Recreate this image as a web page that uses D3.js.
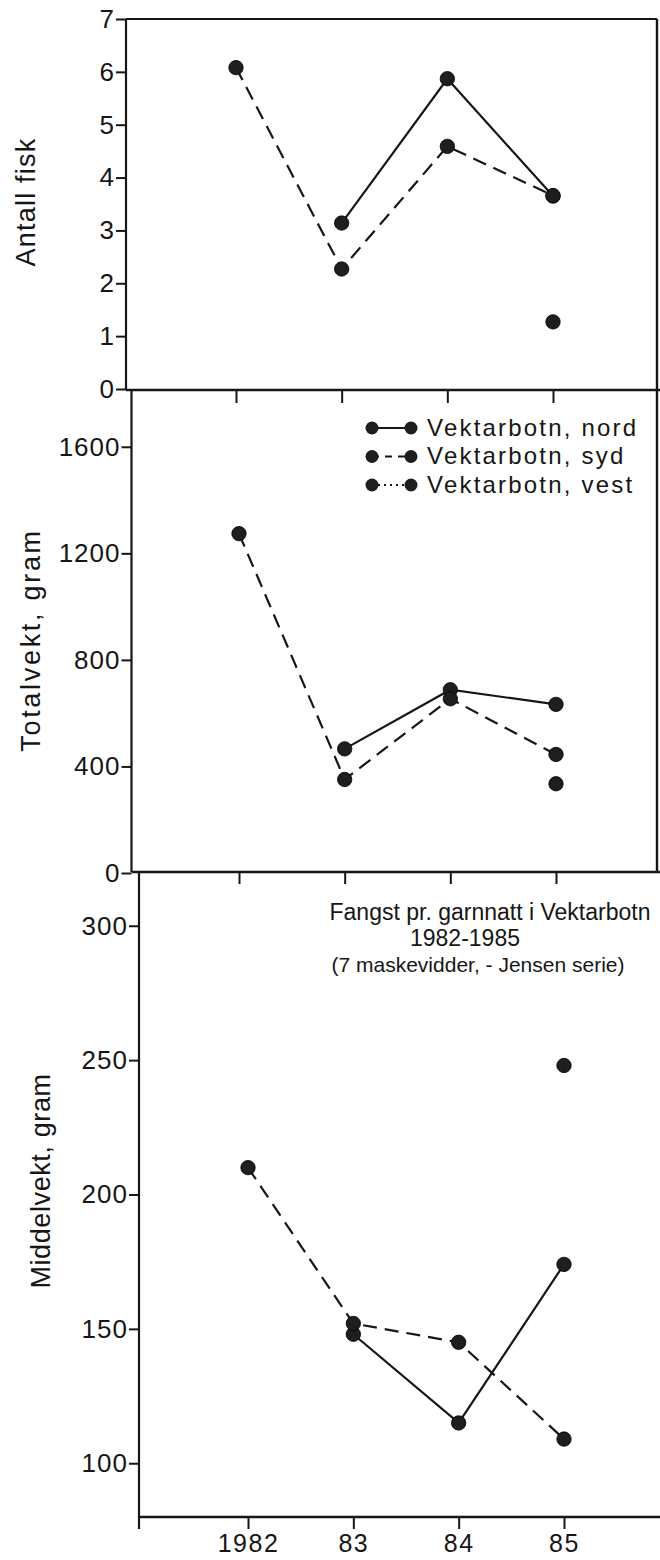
<!DOCTYPE html>
<html>
<head>
<meta charset="utf-8">
<script src="https://cdn.jsdelivr.net/npm/d3@7"></script>
<style>
  html, body { margin: 0; padding: 0; background: #fff; }
  svg { display: block; }
  text { font-family: "Liberation Sans", Arial, sans-serif; fill: #161616; }
</style>
</head>
<body>
<svg id="chart" width="660" height="1560"></svg>
<script>
// ---- data ----
const years = [1982, 1983, 1984, 1985];
const yearLabels = ["1982", "83", "84", "85"];
const seriesNames = ["Vektarbotn, nord", "Vektarbotn, syd", "Vektarbotn, vest"];

// Antall fisk
const antallNord = [null, 3.14, 5.87, 3.65];
const antallSyd  = [6.08, 2.27, 4.59, 3.66];
const antallVest = [null, null, null, 1.27];
const antallTicks = [0, 1, 2, 3, 4, 5, 6, 7];

// Totalvekt, gram
const totalNord = [null, 466, 688, 633];
const totalSyd  = [1274, 351, 654, 445];
const totalVest = [null, null, null, 335];
const totalTicks = [0, 400, 800, 1200, 1600];

// Middelvekt, gram
const middelNord = [null, 148, 115, 174];
const middelSyd  = [210, 152, 145, 109];
const middelVest = [null, null, null, 248];
const middelTicks = [100, 150, 200, 250, 300];

const titleLines = ["Fangst pr. garnnatt i Vektarbotn", "1982-1985", "(7 maskevidder, - Jensen serie)"];

// ---- drawing ----
const svg = d3.select("#chart");
const INK = "#161616";
const SANS = '"Liberation Sans", Arial, sans-serif';

const panels = [
  { label: "Antall fisk", nord: antallNord, syd: antallSyd, vest: antallVest, ticks: antallTicks,
    domain: [0, 7], yRange: [389, 19], axisX: 126, xRange: [236, 553], top: 19, bottom: 390,
    labelX: 35, labelY: 202, labelSpacing: 1.2, rightFrame: true, topFrame: true },
  { label: "Totalvekt, gram", nord: totalNord, syd: totalSyd, vest: totalVest, ticks: totalTicks,
    domain: [0, 1800], yRange: [873, 393.5], axisX: 131.5, xRange: [239, 556], top: 390, bottom: 872,
    labelX: 40, labelY: 640, labelSpacing: 2.7, rightFrame: true, topFrame: false },
  { label: "Middelvekt, gram", nord: middelNord, syd: middelSyd, vest: middelVest, ticks: middelTicks,
    domain: [80, 320], yRange: [1517, 872], axisX: 139, xRange: [248, 564], top: 872, bottom: 1517,
    labelX: 50, labelY: 1181, labelSpacing: 0.6, rightFrame: false, topFrame: false }
];

panels.forEach((p, i) => {
  const g = svg.append("g");
  const x = d3.scaleLinear().domain([1982, 1985]).range(p.xRange);
  const y = d3.scaleLinear().domain(p.domain).range(p.yRange);

  // left axis
  const yAxis = d3.axisLeft(y).tickValues(p.ticks).tickSize(10).tickPadding(1).tickSizeOuter(0)
    .tickFormat(d3.format("d"));
  const ya = g.append("g").attr("transform", `translate(${p.axisX},0)`).call(yAxis);
  ya.select(".domain").remove();
  ya.selectAll(".tick line").attr("stroke", INK).attr("stroke-width", 2);
  ya.selectAll(".tick text").attr("font-size", 26).attr("fill", INK).attr("letter-spacing", 1)
    .style("font-family", SANS);
  g.append("line").attr("x1", p.axisX).attr("x2", p.axisX)
    .attr("y1", p.top).attr("y2", i === 2 ? p.bottom + 12 : p.bottom)
    .attr("stroke", INK).attr("stroke-width", 2.2);

  // bottom axis with ticks pointing down
  const xAxis = d3.axisBottom(x).tickValues(years).tickSize(i === 0 ? 13 : 12).tickSizeOuter(0)
    .tickFormat((d, k) => i === 2 ? yearLabels[k] : "");
  const xa = g.append("g").attr("transform", `translate(0,${p.bottom})`).call(xAxis);
  xa.select(".domain").remove();
  xa.selectAll(".tick line").attr("stroke", INK).attr("stroke-width", 2);
  xa.selectAll(".tick text").attr("font-size", 25).attr("fill", INK)
    .attr("y", 35).attr("dy", 0)
    .attr("letter-spacing", 1.5)
    .style("font-family", SANS);
  g.append("line").attr("x1", p.axisX).attr("x2", 660)
    .attr("y1", p.bottom).attr("y2", p.bottom)
    .attr("stroke", INK).attr("stroke-width", 2.4);

  if (p.topFrame) {
    g.append("line").attr("x1", p.axisX).attr("x2", 657).attr("y1", p.top).attr("y2", p.top)
      .attr("stroke", INK).attr("stroke-width", 2.2);
  }
  if (p.rightFrame) {
    g.append("line").attr("x1", 657).attr("x2", 657).attr("y1", p.top).attr("y2", p.bottom)
      .attr("stroke", INK).attr("stroke-width", 2.4);
  }

  // axis title
  g.append("text")
    .attr("transform", `translate(${p.labelX},${p.labelY}) rotate(-90)`)
    .attr("text-anchor", "middle").attr("font-size", 27).attr("letter-spacing", p.labelSpacing)
    .text(p.label);

  // lines
  const line = d3.line().defined(d => d.v != null).x(d => x(d.yr)).y(d => y(d.v));
  const toPts = arr => years.map((yr, k) => ({ yr, v: arr[k] }));
  g.append("path").datum(toPts(p.syd)).attr("d", line).attr("fill", "none")
    .attr("stroke", INK).attr("stroke-width", 2.2).attr("stroke-dasharray", "14,8");
  g.append("path").datum(toPts(p.nord)).attr("d", line).attr("fill", "none")
    .attr("stroke", INK).attr("stroke-width", 2.2);

  // dots
  const allPts = [p.nord, p.syd, p.vest].flatMap(arr => toPts(arr).filter(d => d.v != null));
  g.selectAll("circle.pt").data(allPts).enter().append("circle").attr("class", "pt")
    .attr("cx", d => x(d.yr)).attr("cy", d => y(d.v)).attr("r", 7.2)
    .attr("fill", "#1e1e1e").attr("stroke", "#000").attr("stroke-width", 0.8);
});

// legend (in panel 2)
const legendDash = [null, "7,6", "2,4"];
const leg = svg.append("g");
seriesNames.forEach((name, k) => {
  const cy = 428 + k * 28.5;
  leg.append("line").attr("x1", 372).attr("x2", 411).attr("y1", cy).attr("y2", cy)
    .attr("stroke", INK).attr("stroke-width", 2)
    .attr("stroke-dasharray", legendDash[k]);
  [372, 411].forEach(cx => leg.append("circle").attr("cx", cx).attr("cy", cy).attr("r", 6.5)
    .attr("fill", "#1e1e1e"));
  leg.append("text").attr("x", 427).attr("y", cy + 7.5).attr("font-size", 24)
    .attr("letter-spacing", 2.2).text(name);
});

// title (in panel 3)
const titleSizes = [23, 23, 21];
const titleFonts = [SANS, '"Liberation Sans Narrow", "Arial Narrow", ' + SANS, SANS];
const titleCenters = [490, 465, 478];
titleLines.forEach((t, k) => {
  svg.append("text").attr("x", titleCenters[k]).attr("y", 920 + k * 26)
    .attr("text-anchor", "middle").attr("font-size", titleSizes[k])
    .style("font-family", titleFonts[k]).text(t);
});
</script>
</body>
</html>
